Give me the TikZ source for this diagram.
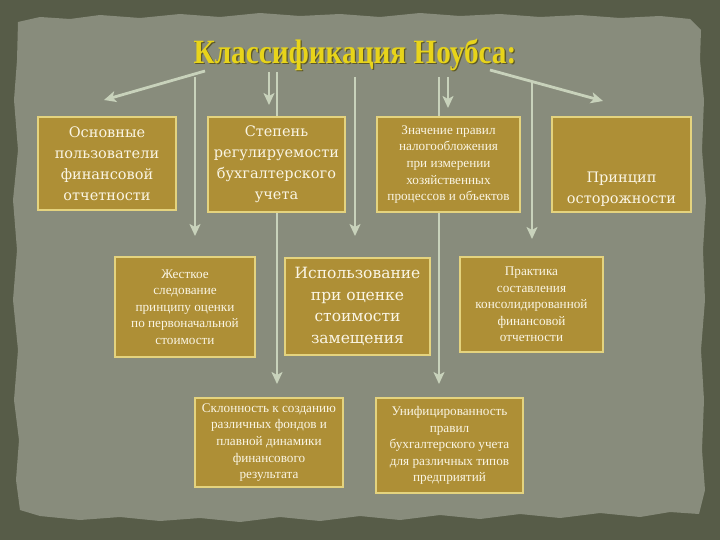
\documentclass[tikz,border=0pt]{standalone}
\usepackage{fontspec}
\setmainfont{Liberation Serif}
\newfontfamily\bigfont{DejaVu Serif}
\newfontfamily\smallfont{Liberation Serif}
\newfontfamily\titlefont[FakeStretch=0.86]{Liberation Serif}
\usetikzlibrary{arrows.meta,calc}
\definecolor{outerbg}{HTML}{575C48}
\definecolor{panel}{HTML}{888C7C}
\definecolor{boxfill}{HTML}{AE8F36}
\definecolor{boxline}{HTML}{E4D37E}
\definecolor{boxtext}{HTML}{FAF5E4}
\definecolor{arrowc}{HTML}{C8D2BB}
\definecolor{titlec}{HTML}{E8D41A}
\definecolor{titlesh}{HTML}{5E5A28}
\tikzset{
  box/.style={draw=boxline, line width=1.2pt, fill=boxfill, inner sep=2pt, align=center, text=boxtext},
  bigtxt/.style={font=\bigfont\fontsize{14.5}{21}\selectfont},
  midtxt/.style={font=\bigfont\fontsize{15.5}{21.5}\selectfont},
  smalltxt/.style={font=\smallfont\fontsize{13.2}{16.6}\selectfont},
  arr/.style={draw=arrowc, line width=2.8pt, -{Stealth[length=12pt,width=11pt,inset=3pt]}},
}
\begin{document}
\begin{tikzpicture}[x=1pt,y=-1pt]
\useasboundingbox (0,0) rectangle (720,540);
\fill[outerbg] (0,0) rectangle (720,540);
% torn paper panel
\fill[panel] (18,22) -- (40,17) -- (70,19) -- (100,15) -- (140,18) -- (180,14) -- (220,17) -- (260,13) -- (300,16) -- (340,14) -- (380,17) -- (420,13) -- (460,16) -- (500,14) -- (540,17) -- (580,15) -- (620,18) -- (660,16) -- (690,19) -- (701,30)
  -- (700,60) -- (704,100) -- (702,150) -- (706,200) -- (703,250) -- (705,300) -- (701,350) -- (704,400) -- (702,450) -- (705,490) -- (699,514)
  -- (670,512) -- (640,517) -- (600,513) -- (560,518) -- (520,514) -- (480,519) -- (440,515) -- (400,520) -- (360,516) -- (320,521) -- (280,517) -- (240,522) -- (200,518) -- (160,521) -- (120,517) -- (80,520) -- (40,516) -- (20,510)
  -- (16,480) -- (19,440) -- (14,400) -- (18,350) -- (13,300) -- (17,250) -- (13,200) -- (18,150) -- (14,100) -- (17,60) -- cycle;

% title
\node[font=\titlefont\bfseries\fontsize{34}{34}\selectfont, text=titlesh] at (356.3,56.3) {Классификация Ноубса:};
\node[font=\titlefont\bfseries\fontsize{34}{34}\selectfont, text=titlec] (title) at (355,55) {Классификация Ноубса:};

% arrow end points
\coordinate (s1) at (205,71);  \coordinate (e1) at (104,100);
\coordinate (s2) at (269,72);  \coordinate (e2) at (269,105);
\coordinate (s3) at (277,72);  \coordinate (e3) at (277,384);
\coordinate (s4) at (195,77);  \coordinate (e4) at (195,236);
\coordinate (s5) at (355,77);  \coordinate (e5) at (355,236);
\coordinate (s6) at (448,77);  \coordinate (e6) at (448,108);
\coordinate (s7) at (439,77);  \coordinate (e7) at (439,384);
\coordinate (s8) at (532,82);  \coordinate (e8) at (532,239);
\coordinate (s9) at (490,70);  \coordinate (e9) at (603,101);

\draw[arr] (s1) -- (e1);
\draw[arr] (s2) -- (e2);
\draw[arr] (s3) -- (e3);
\draw[arr] (s4) -- (e4);
\draw[arr] (s5) -- (e5);
\draw[arr] (s6) -- (e6);
\draw[arr] (s7) -- (e7);
\draw[arr] (s8) -- (e8);
\draw[arr] (s9) -- (e9);

% boxes
\node[box, bigtxt, minimum width=138pt, minimum height=93pt] (b1) at (107,163.5) {Основные\\пользователи\\финансовой\\отчетности};
\node[box, bigtxt, minimum width=137pt, minimum height=95pt] (b2) at (276.5,164.5) {Степень\\регулируемости\\бухгалтерского\\учета};
\node[box, smalltxt, minimum width=143pt, minimum height=95pt] (b3) at (448.5,164.5) {Значение правил\\налогообложения\\при измерении\\хозяйственных\\процессов и объектов};
\node[box, minimum width=139pt, minimum height=95pt] (b4) at (621.5,164.5) {};
\node[bigtxt, text=boxtext, align=center] (t4) at (621.5,189) {Принцип\\осторожности};
\node[box, smalltxt, minimum width=140pt, minimum height=100pt] (b5) at (185,307) {Жесткое\\следование\\принципу оценки\\по первоначальной\\стоимости};
\node[box, midtxt, minimum width=145pt, minimum height=97pt] (b6) at (357.5,306.5) {Использование\\при оценке\\стоимости\\замещения};
\node[box, smalltxt, minimum width=143pt, minimum height=95pt] (b7) at (531.5,304.5) {Практика\\составления\\консолидированной\\финансовой\\отчетности};
\node[box, smalltxt, minimum width=148pt, minimum height=89pt] (b8) at (269,442.5) {Склонность к созданию\\различных фондов и\\плавной динамики\\финансового\\результата};
\node[box, smalltxt, minimum width=147pt, minimum height=95pt] (b9) at (449.5,445.5) {Унифицированность\\правил\\бухгалтерского учета\\для различных типов\\предприятий};
\end{tikzpicture}
\end{document}
